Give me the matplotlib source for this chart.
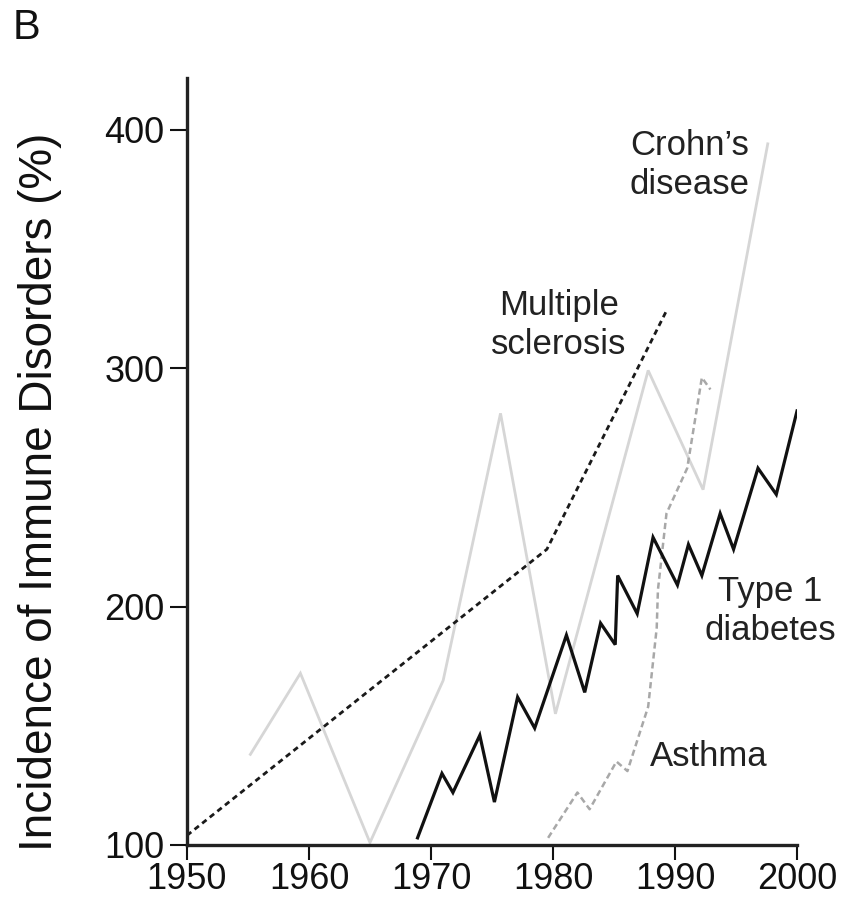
import matplotlib
matplotlib.use("Agg")
import matplotlib.pyplot as plt

plt.rcParams['font.family'] = ['Liberation Sans', 'DejaVu Sans']

# Data
crohn_years = [1955.2, 1959.3, 1965.0, 1971.0, 1975.7, 1980.2, 1987.8, 1992.3, 1997.6]
crohn_vals = [138, 172, 101, 169, 281, 155, 299, 249, 394]

ms_years = [1950.0, 1979.5, 1989.3]
ms_vals = [104, 224, 324]

t1d_years = [1968.9, 1970.9, 1971.8, 1974.0, 1975.2, 1977.1, 1978.5, 1981.1, 1982.6,
             1983.9, 1985.1, 1985.3, 1986.9, 1988.2, 1990.2, 1991.1, 1992.2, 1993.7,
             1994.8, 1996.8, 1998.3, 2000.0]
t1d_vals = [103, 130, 122, 146, 118, 162, 149, 188, 164,
            193, 184, 213, 197, 229, 209, 226, 213, 239,
            224, 258, 247, 282]

asthma_years = [1979.6, 1982.0, 1983.0, 1985.2, 1986.1, 1987.8, 1988.5, 1988.6,
                1989.3, 1991.0, 1992.2, 1992.9]
asthma_vals = [103, 122, 115, 135, 131, 158, 191, 207, 239, 258, 296, 291]

xticks = [1950, 1960, 1970, 1980, 1990, 2000]
yticks = [100, 200, 300, 400]

fig = plt.figure(figsize=(8.42, 9.05), dpi=100)
ax = fig.add_axes([0.222, 0.0663, 0.7246, 0.8475])

ax.plot(crohn_years, crohn_vals, color='#d6d6d6', lw=2.0, solid_joinstyle='miter')
ax.plot(asthma_years, asthma_vals, color='#a8a8a8', lw=1.8, linestyle=(0, (2.5, 1.5)))
ax.plot(ms_years, ms_vals, color='#1a1a1a', lw=2.0, linestyle=(0, (2.0, 1.5)))
ax.plot(t1d_years, t1d_vals, color='#111111', lw=2.3, solid_joinstyle='miter')

ax.set_xlim(1950, 2000)
ax.set_ylim(100, 421.6)
ax.set_xticks(xticks)
ax.set_yticks(yticks)
ax.tick_params(axis='both', direction='out', length=12, width=1.5, labelsize=26,
               colors='#111111')
ax.tick_params(axis='x', length=11, pad=1.5)
ax.tick_params(axis='y', pad=4)
for s in ['top', 'right']:
    ax.spines[s].set_visible(False)
for s in ['left', 'bottom']:
    ax.spines[s].set_linewidth(2.4)
    ax.spines[s].set_color('#222222')

fig.text(0.047, 0.457, 'Incidence of Immune Disorders (%)', fontsize=33, color='#111111',
         rotation=90, ha='center', va='center')

tk = dict(fontsize=25, color='#222222', ha='center', va='center', linespacing=1.23)
ax.text(1991.2, 385, "Crohn’s\ndisease", **tk)
ax.text(1980.5, 318, "Multiple\nsclerosis", **tk)
ax.text(1997.8, 198, "Type 1\ndiabetes", **tk)
ax.text(1992.75, 137, "Asthma", **tk)

fig.text(0.032, 0.969, "B", fontsize=30, color='#111111', ha='center', va='center')

fig.savefig('out.png', dpi=100)
